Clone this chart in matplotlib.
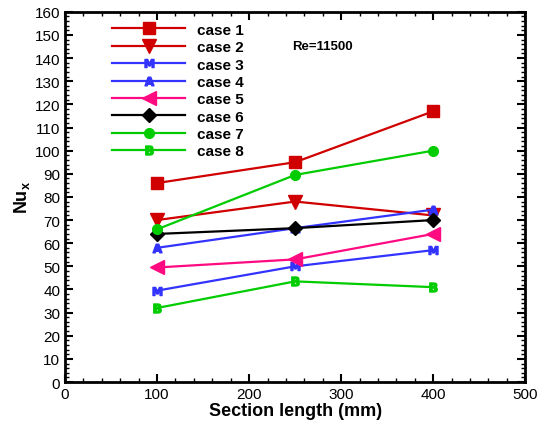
import matplotlib
matplotlib.use("Agg")
import matplotlib.pyplot as plt
from matplotlib.ticker import MultipleLocator

plt.rcParams['font.family'] = ['Liberation Sans', 'DejaVu Sans']

x = [100, 250, 400]
labels = ["case 1", "case 2", "case 3", "case 4", "case 5", "case 6", "case 7", "case 8"]
case1 = [86, 95, 117]
case2 = [70, 78, 72]
case3 = [39.5, 50, 57]
case4 = [58, 66.5, 74.5]
case5 = [49.5, 53, 64]
case6 = [64, 66.5, 70]
case7 = [66, 89.5, 100]
case8 = [32, 43.5, 41]
series = [case1, case2, case3, case4, case5, case6, case7, case8]

styles = [
    dict(color='#D00000', marker='s', ms=9),
    dict(color='#D00000', marker='v', ms=10),
    dict(color='#3333FF', marker=r'$\mathbf{M}$', ms=6.5),
    dict(color='#3333FF', marker=r'$\mathbf{A}$', ms=6.5),
    dict(color='#FF0A80', marker='<', ms=10),
    dict(color='#000000', marker='D', ms=7),
    dict(color='#00CC00', marker='o', ms=7),
    dict(color='#00CC00', marker=r'$\mathbf{B}$', ms=6.5),
]

fig = plt.figure(figsize=(5.42, 4.27), dpi=100)
ax = fig.add_axes([0.12, 0.103, 0.849, 0.867])
for y, lab, st in zip(series, labels, styles):
    ax.plot(x, y, lw=1.6, label=lab, **st)

ax.set_xlim(0, 500)
ax.set_ylim(0, 160)
ax.xaxis.set_major_locator(MultipleLocator(100))
ax.xaxis.set_minor_locator(MultipleLocator(20))
ax.yaxis.set_major_locator(MultipleLocator(10))
ax.yaxis.set_minor_locator(MultipleLocator(2))
ax.tick_params(which='both', direction='in', top=True, right=True, labelsize=11)
ax.tick_params(which='major', length=6, width=1.5)
ax.tick_params(which='minor', length=3, width=1)
for s in ax.spines.values():
    s.set_linewidth(2)

ax.set_xlabel('Section length (mm)', fontsize=13, fontweight='bold', labelpad=1)
ax.set_ylabel(r'Nu$_\mathregular{x}$', fontsize=13, fontweight='bold', labelpad=2)
ax.text(247, 144, 'Re=11500', fontsize=9.5, fontweight='bold')

leg = ax.legend(loc='upper left', bbox_to_anchor=(0.082, 0.995), frameon=False,
                prop={'size': 11, 'weight': 'bold'}, handlelength=4.8,
                labelspacing=0.22, handletextpad=0.8, borderaxespad=0.2)

fig.savefig('out.png', dpi=100)
